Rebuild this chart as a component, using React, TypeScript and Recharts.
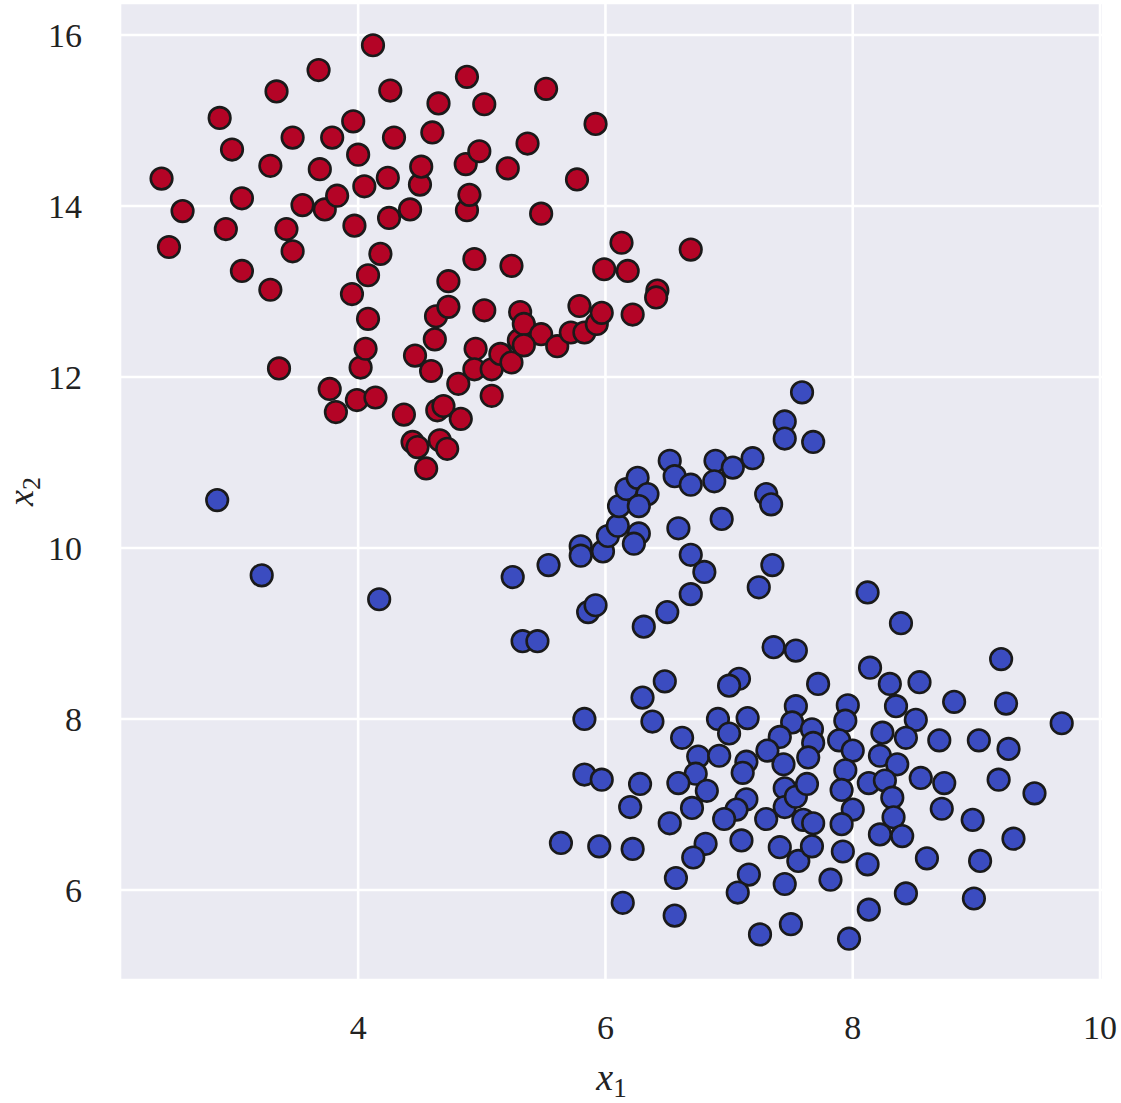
import { ScatterChart, Scatter, XAxis, YAxis, CartesianGrid, Label } from 'recharts';

const xTicks = [4, 6, 8, 10];
const yTicks = [6, 8, 10, 12, 14, 16];
const xDomain = [2.074, 10.024];
const yDomain = [4.947, 16.374];

// class 0 (red) samples, [x1, x2]
const redPoints: [number, number][] = [
  [2.41, 14.32], [2.47, 13.52], [2.58, 13.94], [2.88, 15.03], [2.98, 14.66], [2.93, 13.73], [3.06, 13.24],
  [3.06, 14.09], [3.34, 15.34], [3.29, 14.47], [3.42, 13.73], [3.47, 13.47], [3.29, 13.02], [3.36, 12.1],
  [3.47, 14.8], [3.55, 14.01], [3.68, 15.59], [3.69, 14.43], [3.73, 13.96], [3.79, 14.8], [3.83, 14.12],
  [3.77, 11.86], [3.82, 11.59], [3.97, 13.77], [3.96, 14.99], [4.0, 14.6], [3.95, 12.97], [4.05, 14.23],
  [4.02, 12.11], [4.06, 12.33], [4.08, 12.68], [4.12, 15.88], [4.08, 13.19], [3.99, 11.73], [4.14, 11.76],
  [4.18, 13.44], [4.26, 15.35], [4.24, 14.33], [4.25, 13.86], [4.29, 14.8], [4.42, 13.96], [4.37, 11.56],
  [4.44, 11.24], [4.48, 11.18], [4.46, 12.25], [4.5, 14.25], [4.51, 14.46], [4.55, 10.93], [4.59, 12.07],
  [4.6, 14.86], [4.65, 15.2], [4.62, 12.44], [4.63, 12.71], [4.64, 11.61], [4.66, 11.26], [4.69, 11.66],
  [4.72, 11.16], [4.73, 13.12], [4.73, 12.82], [4.81, 11.92], [4.83, 11.51], [4.88, 15.51], [4.87, 14.49],
  [4.88, 13.95], [4.9, 14.13], [4.94, 13.38], [4.95, 12.33], [4.94, 12.09], [4.98, 14.64], [5.02, 15.19],
  [5.02, 12.78], [5.08, 12.09], [5.08, 11.78], [5.15, 12.27], [5.21, 14.44], [5.24, 13.3], [5.24, 12.17],
  [5.3, 12.43], [5.31, 12.76], [5.34, 12.62], [5.37, 14.73], [5.48, 13.91], [5.48, 12.5], [5.52, 15.37],
  [5.61, 12.36], [5.72, 12.52], [5.77, 14.31], [5.79, 12.83], [5.83, 12.52], [5.92, 14.96], [5.93, 12.62],
  [5.97, 12.75], [5.99, 13.26], [6.13, 13.57], [6.18, 13.24], [6.22, 12.73], [6.42, 13.01], [6.41, 12.93],
  [6.69, 13.49], [5.34, 12.37],
];

// class 1 (blue) samples, [x1, x2]
const bluePoints: [number, number][] = [
  [2.86, 10.56], [3.22, 9.68], [4.17, 9.4], [5.25, 9.66], [5.54, 9.8], [5.8, 10.02], [5.8, 9.91],
  [5.98, 9.96], [5.86, 9.25], [5.92, 9.33], [6.02, 10.14], [6.1, 10.26], [6.11, 10.49], [6.17, 10.69],
  [6.26, 10.82], [6.34, 10.63], [6.27, 10.49], [6.27, 10.17], [6.23, 10.05], [6.52, 11.02], [6.56, 10.84],
  [6.69, 10.74], [6.89, 11.02], [6.88, 10.78], [7.03, 10.94], [7.19, 11.05], [6.59, 10.23], [6.94, 10.34],
  [7.3, 10.63], [7.34, 10.51], [7.45, 11.48], [7.45, 11.28], [7.59, 11.82], [7.68, 11.24], [6.69, 9.92],
  [6.8, 9.72], [7.35, 9.8], [7.24, 9.54], [6.69, 9.46], [6.5, 9.25], [6.31, 9.08], [5.33, 8.91],
  [5.45, 8.91], [7.36, 8.84], [7.54, 8.8], [6.48, 8.44], [7.08, 8.47], [7.0, 8.39], [6.3, 8.25],
  [5.83, 8.0], [6.38, 7.97], [6.91, 8.0], [7.15, 8.01], [7.0, 7.83], [7.54, 8.15], [7.51, 7.96],
  [7.41, 7.79], [6.62, 7.78], [6.75, 7.56], [6.92, 7.57], [7.31, 7.63], [7.44, 7.47], [7.14, 7.5],
  [7.11, 7.37], [6.73, 7.36], [5.83, 7.35], [5.97, 7.29], [6.28, 7.24], [6.59, 7.25], [6.82, 7.16],
  [7.45, 7.19], [6.2, 6.97], [7.14, 7.06], [7.06, 6.94], [6.96, 6.83], [6.7, 6.96], [6.52, 6.78],
  [7.3, 6.83], [7.45, 6.97], [7.54, 7.09], [7.63, 7.24], [7.6, 6.82], [7.68, 6.78], [5.64, 6.55],
  [5.95, 6.51], [6.22, 6.48], [6.81, 6.54], [6.71, 6.38], [7.1, 6.58], [7.41, 6.5], [7.56, 6.34],
  [7.67, 6.51], [6.57, 6.14], [7.16, 6.18], [7.07, 5.97], [7.45, 6.07], [6.14, 5.85], [6.56, 5.7],
  [7.5, 5.6], [7.25, 5.48], [8.12, 9.48], [8.39, 9.12], [9.2, 8.7], [8.14, 8.6], [7.72, 8.41],
  [8.3, 8.41], [8.54, 8.43], [7.96, 8.16], [7.94, 7.98], [8.35, 8.15], [8.51, 7.99], [8.82, 8.2],
  [9.24, 8.18], [9.69, 7.95], [7.67, 7.88], [7.68, 7.72], [7.89, 7.75], [8.0, 7.63], [8.24, 7.84],
  [8.43, 7.78], [8.7, 7.75], [9.02, 7.75], [9.26, 7.65], [7.64, 7.55], [7.94, 7.4], [8.22, 7.57],
  [8.36, 7.47], [7.91, 7.17], [8.13, 7.25], [8.26, 7.28], [8.55, 7.31], [8.74, 7.25], [9.18, 7.29],
  [9.47, 7.13], [8.32, 7.08], [8.0, 6.94], [7.91, 6.77], [8.33, 6.85], [8.72, 6.95], [8.97, 6.82],
  [8.22, 6.65], [8.4, 6.63], [9.3, 6.6], [7.92, 6.45], [8.12, 6.3], [8.6, 6.37], [9.03, 6.34],
  [7.82, 6.12], [8.43, 5.96], [8.98, 5.9], [8.13, 5.77], [7.97, 5.43],
];

const RED = '#b40426';
const BLUE = '#3b4cc0';
const EDGE = '#1a1a1a';
const FONT = '"Liberation Serif", "DejaVu Serif", serif';

const toRows = (pts: [number, number][]) => pts.map(([x1, x2]) => ({ x1, x2 }));

const dot = (fill: string) => (props: any) => (
  <circle cx={props.cx} cy={props.cy} r={10.8} fill={fill} stroke={EDGE} strokeWidth={2.6} />
);

const XLabel = ({ viewBox }: any) => (
  <text x={viewBox.x + viewBox.width / 2} y={viewBox.y + 110} textAnchor="middle" fill="#222" fontFamily={FONT}>
    <tspan fontStyle="italic" fontSize={38}>x</tspan>
    <tspan fontSize={27} dy={7}>1</tspan>
  </text>
);

const YLabel = ({ viewBox }: any) => {
  const cx = 33;
  const cy = viewBox.y + viewBox.height / 2;
  return (
    <text x={cx} y={cy} textAnchor="middle" fill="#222" fontFamily={FONT} transform={`rotate(-90 ${cx} ${cy})`}>
      <tspan fontStyle="italic" fontSize={36}>x</tspan>
      <tspan fontSize={26} dy={7}>2</tspan>
    </text>
  );
};

export default function App() {
  const tickStyle = { fill: '#222', fontSize: 34, fontFamily: FONT };
  return (
    <div style={{ position: 'absolute', left: 0, top: 0 }}>
      <ScatterChart width={1121} height={1103} margin={{ top: 3, right: 18, left: 0, bottom: 0 }}>
        <CartesianGrid fill="#eaeaf2" stroke="#ffffff" strokeWidth={2.6} />
        <XAxis
          type="number"
          dataKey="x1"
          domain={xDomain}
          ticks={xTicks}
          allowDataOverflow
          height={123}
          axisLine={false}
          tickLine={false}
          tickSize={0}
          tickMargin={35}
          tick={tickStyle}
        >
          <Label content={<XLabel />} />
        </XAxis>
        <YAxis
          type="number"
          dataKey="x2"
          domain={yDomain}
          ticks={yTicks}
          allowDataOverflow
          width={120}
          axisLine={false}
          tickLine={false}
          tickSize={0}
          tickMargin={38}
          tick={tickStyle}
        >
          <Label content={<YLabel />} />
        </YAxis>
        <Scatter data={toRows(bluePoints)} shape={dot(BLUE)} isAnimationActive={false} />
        <Scatter data={toRows(redPoints)} shape={dot(RED)} isAnimationActive={false} />
      </ScatterChart>
    </div>
  );
}
